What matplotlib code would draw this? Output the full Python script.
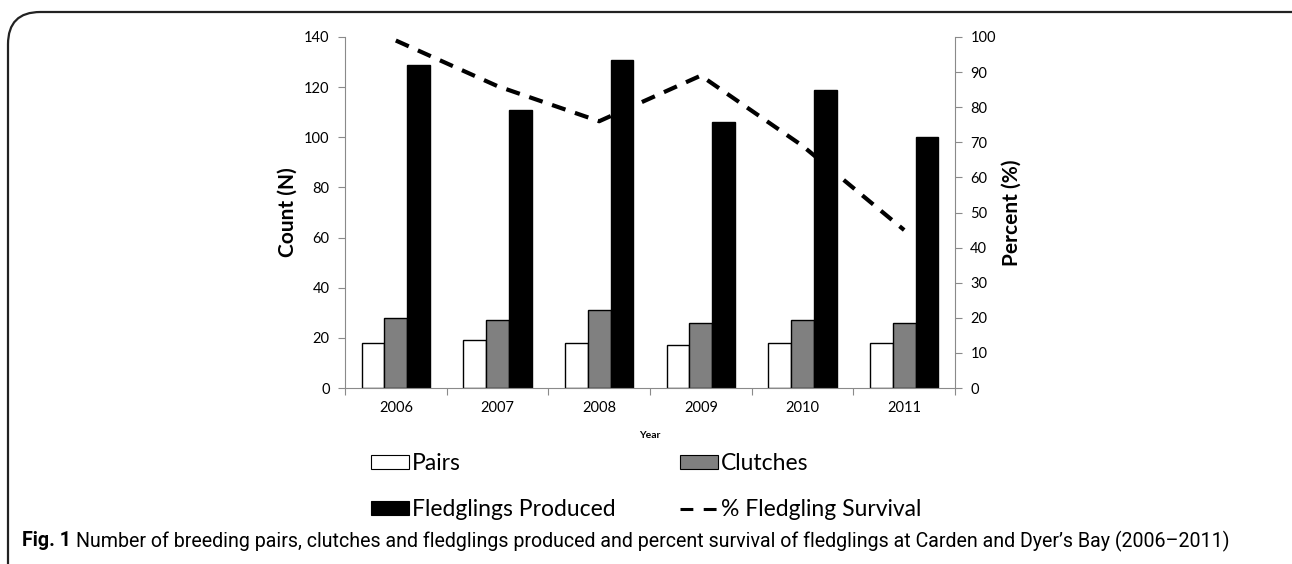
import matplotlib
matplotlib.use("Agg")
import matplotlib.pyplot as plt
import numpy as np
from matplotlib.patches import FancyBboxPatch, Patch
from matplotlib.lines import Line2D

years = ["2006", "2007", "2008", "2009", "2010", "2011"]
pairs = [18, 19, 18, 17, 18, 18]
clutches = [28, 27, 31, 26, 27, 26]
fledglings = [129, 111, 131, 106, 119, 100]
survival = [99, 86, 76, 89, 69, 45]

caption_bold = "Fig. 1"
caption_text = ("Number of breeding pairs, clutches and fledglings produced and "
                "percent survival of fledglings at Carden and Dyer\u2019s Bay (2006\u20132011)")

plt.rcParams['font.family'] = ['Lato', 'DejaVu Sans']

W, H = 1292, 564
fig = plt.figure(figsize=(W / 100, H / 100), dpi=100)

# rounded frame around the figure, open at bottom/right edge
frame = FancyBboxPatch((8 / W, -0.2), 1.2, 1 - 12 / H + 0.2,
                       boxstyle="round,pad=0,rounding_size=0.025",
                       transform=fig.transFigure, fill=False,
                       edgecolor="#222222", linewidth=1.6,
                       mutation_aspect=W / H)
fig.patches.append(frame)

ax = fig.add_axes([345 / W, 1 - 388 / H, 610 / W, 351 / H])
x = np.arange(len(years))
w = 0.223
grey = "#8a8a8a"
ax.bar(x - w, pairs, w, color="white", edgecolor="black", linewidth=1, zorder=2)
ax.bar(x, clutches, w, color="#808080", edgecolor="black", linewidth=1, zorder=2)
ax.bar(x + w, fledglings, w, color="black", edgecolor="black", linewidth=1, zorder=2)

ax.set_xlim(-0.5, len(years) - 0.5)
ax.set_ylim(0, 140)
ax.set_yticks(range(0, 141, 20))
ax.set_xticks(np.arange(-0.5, len(years), 1.0), minor=False)
ax.set_xticklabels([])
ax.set_xticks(x, minor=True)
ax.set_xticklabels(years, minor=True)
ax.tick_params(axis='x', which='minor', length=0, labelsize=10.5, pad=9)
ax.tick_params(axis='x', which='major', length=5, color=grey, direction='out')
ax.tick_params(axis='y', length=5, color=grey, labelsize=10.5, pad=6)
for s in ["top", "right"]:
    ax.spines[s].set_visible(False)
for s in ["left", "bottom"]:
    ax.spines[s].set_color(grey)
ax.set_ylabel("Count (N)", fontsize=15, fontweight="bold", labelpad=5)
ax.set_xlabel("Year", fontsize=7.5, fontweight="bold", labelpad=12)

ax2 = ax.twinx()
ax2.plot(x, survival, color="black", linewidth=3, linestyle=(0, (3.4, 2.4)), zorder=3)
ax2.set_ylim(0, 100)
ax2.set_yticks(range(0, 101, 10))
ax2.tick_params(axis='y', length=5, color=grey, labelsize=10.5, pad=6)
for s in ["top", "left", "bottom"]:
    ax2.spines[s].set_visible(False)
ax2.spines["right"].set_color(grey)
ax2.set_ylabel("Percent (%)", fontsize=15, fontweight="bold", labelpad=4)

handles = [
    Patch(facecolor="white", edgecolor="black", linewidth=0.8),
    Patch(facecolor="black", edgecolor="black", linewidth=0.8),
    Patch(facecolor="#808080", edgecolor="black", linewidth=0.8),
    Line2D([0], [0], color="black", linewidth=2.2, linestyle=(0, (4.2, 3.4))),
]
labels = ["Pairs", "Fledglings Produced", "Clutches", "% Fledgling Survival"]
fig.legend(handles, labels, loc="upper left", bbox_to_anchor=(371 / W, 1 - 453 / H),
           ncol=2, frameon=False, fontsize=16.5, borderpad=0, borderaxespad=0,
           handlelength=1.65, handleheight=0.6, handletextpad=0.15,
           columnspacing=2.8, labelspacing=1.1)

# caption
cap_font = ['Liberation Sans Narrow', 'Roboto', 'DejaVu Sans']
t1 = fig.text(22 / W, 1 - 541 / H, caption_bold, fontsize=14.1, fontweight="bold",
              family=cap_font, va="center", ha="left")
fig.canvas.draw()
bb = t1.get_window_extent()
fig.text((bb.x1 + 5) / W, 1 - 541 / H, caption_text, fontsize=14.1,
         family=cap_font, va="center", ha="left")

fig.savefig("out.png", dpi=100)
